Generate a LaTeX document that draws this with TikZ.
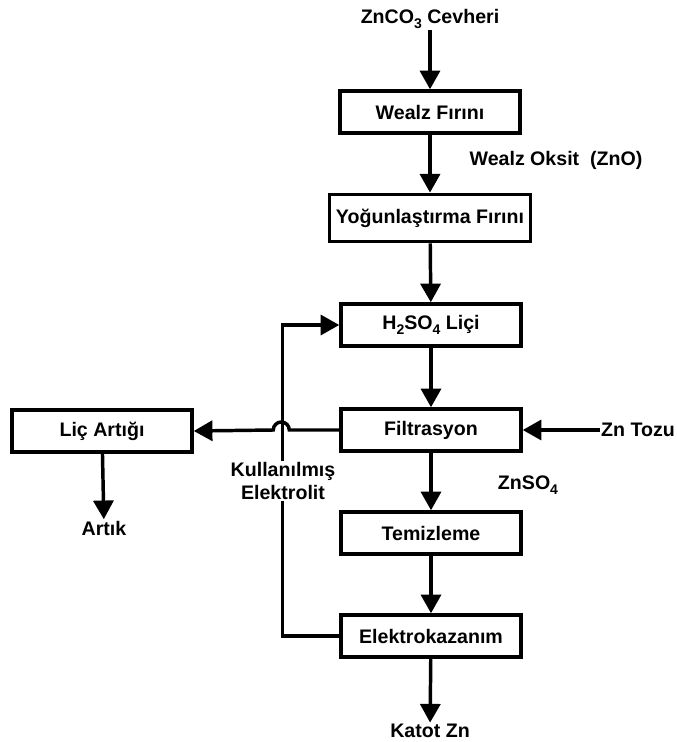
\documentclass[tikz,border=0pt]{standalone}
\usepackage{fontspec}
\setmainfont{Liberation Sans}
\usetikzlibrary{arrows.meta}
\newcommand{\altind}[1]{\raisebox{-3.8pt}{\fontsize{10.5}{10.5}\selectfont #1}}

\begin{document}
\begin{tikzpicture}[
  x=0.75pt, y=-0.75pt,
  >={Triangle[length=14pt,width=15pt]},
  font=\fontsize{14.7}{17.3}\selectfont\bfseries,
  box/.style={draw, line width=2.6pt, minimum width=135pt, minimum height=31.5pt,
              inner sep=2pt, align=center},
  e/.style={->, line width=2.6pt},
  lbl/.style={inner sep=1pt, align=center}
]
  \useasboundingbox (0,0) rectangle (676,742);
  % ana hat
  \node[lbl] (cv) at (430,19)  {ZnCO\altind{3} Cevheri};
  \node[box] (wf) at (430,112) {Wealz Fırını};
  \node[box, minimum width=150.5pt, minimum height=35.5pt] (yf) at (430,218) {Yoğunlaştırma Fırını};
  \node[box] (hl) at (431,325) {H\altind{2}SO\altind{4} Liçi};
  \node[box] (fl) at (431,430) {Filtrasyon};
  \node[box] (tz) at (431,533) {Temizleme};
  \node[box] (ek) at (431,636) {Elektrokazanım};
  \node[lbl] (kz) at (430,731) {Katot Zn};
  % yan dallar
  \node[box] (la) at (102,431) {Liç Artığı};
  \node[lbl] (ak) at (104,528) {Artık};
  \node[lbl] (zt) at (638,430) {Zn Tozu};
  % ara ürünler
  \node[lbl] (wo) at (556,160) {Wealz Oksit\ \ (ZnO)};
  \node[lbl] (zs) at (528,485) {ZnSO\altind{4}};
  % oklar
  \draw[e] (cv) -- (wf);
  \draw[e] (wf) -- (yf);
  \draw[e] (yf) -- (hl);
  \draw[e] (hl) -- (fl);
  \draw[e] (fl) -- (tz);
  \draw[e] (tz) -- (ek);
  \draw[e] (ek) -- (kz);
  \draw[e] (la) -- (ak);
  \draw[e] (zt) -- (fl);
  % geri dönüş (kullanılmış elektrolit)
  \draw[e] (ek.west) -- ++(-57,0) |- (hl.west);
  \draw[e] (fl.west) -- ++(-50,0) arc[start angle=0, end angle=180, radius=6pt] -- (la.east);
  \node[lbl, fill=white] (ke) at (283,481) {Kullanılmış\\Elektrolit};
\end{tikzpicture}
\end{document}
